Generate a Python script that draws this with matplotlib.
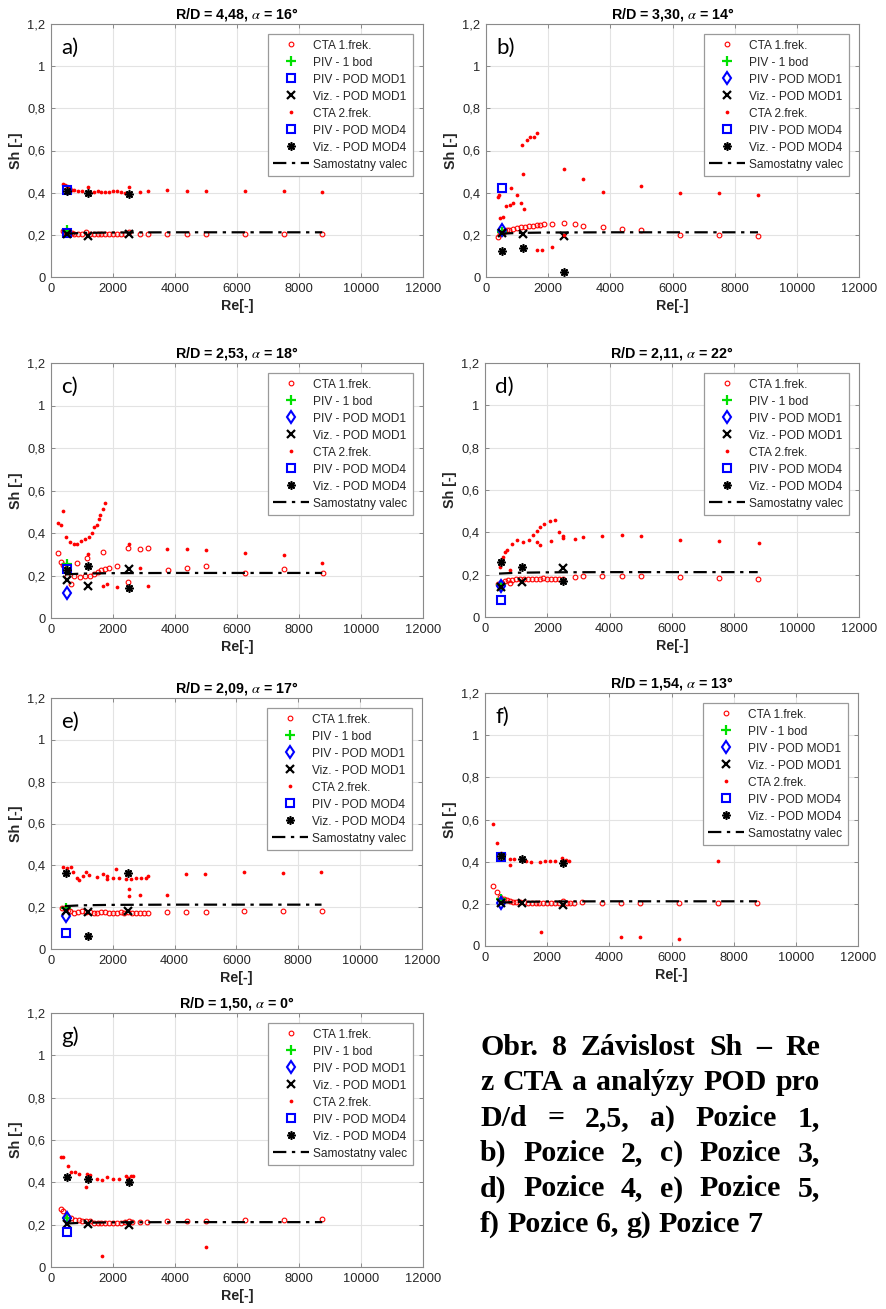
import matplotlib

matplotlib.use("Agg")
import matplotlib.pyplot as plt
from matplotlib.ticker import FuncFormatter

plt.rcParams["font.family"] = ["Liberation Sans", "DejaVu Sans"]
plt.rcParams["mathtext.fontset"] = "stix"

W, H = 886, 1309

# ---- data ------------------------------------------------------------------
POD_RE = [500, 1190, 2500]
PIV_RE = [500]
VALEC_RE = [450, 1000, 2000, 4000, 8750]
VALEC_SH = [0.205, 0.209, 0.211, 0.212, 0.212]

TITLES = ["R/D = 4,48, $\\alpha$ = 16°", "R/D = 3,30, $\\alpha$ = 14°",
          "R/D = 2,53, $\\alpha$ = 18°", "R/D = 2,11, $\\alpha$ = 22°",
          "R/D = 2,09, $\\alpha$ = 17°", "R/D = 1,54, $\\alpha$ = 13°",
          "R/D = 1,50, $\\alpha$ = 0°"]
LETTERS = ["a)", "b)", "c)", "d)", "e)", "f)", "g)"]
LABELS = ["CTA 1.frek.", "PIV - 1 bod", "PIV - POD MOD1", "Viz. - POD MOD1",
          "CTA 2.frek.", "PIV - POD MOD4", "Viz. - POD MOD4", "Samostatny valec"]

# panel a
cta1_re_a = [375, 440, 500, 560, 625, 690, 750, 875, 1000, 1125, 1250, 1375, 1500, 1625,
             1750, 1875, 2000, 2125, 2250, 2375, 2500, 2875, 3125, 3750, 4375, 5000, 6250,
             7500, 8750]
cta1_sh_a = [0.218, 0.215, 0.212, 0.21, 0.208, 0.207, 0.206, 0.205, 0.205, 0.212, 0.204,
             0.204, 0.203, 0.203, 0.203, 0.203, 0.204, 0.203, 0.203, 0.204, 0.212, 0.204,
             0.205, 0.205, 0.205, 0.204, 0.205, 0.205, 0.205]
cta2_re_a = [375, 440, 500, 560, 625, 690, 750, 875, 1000, 1190, 1250, 1375, 1500, 1625,
             1750, 1875, 2000, 2125, 2250, 2375, 2500, 2500, 2875, 3125, 3750, 4375, 5000,
             6250, 7500, 8750]
cta2_sh_a = [0.44, 0.435, 0.43, 0.425, 0.42, 0.415, 0.412, 0.41, 0.41, 0.425, 0.405, 0.403,
             0.408, 0.405, 0.403, 0.405, 0.41, 0.41, 0.405, 0.40, 0.428, 0.40, 0.405, 0.41,
             0.412, 0.41, 0.41, 0.41, 0.408, 0.405]
pod_a = dict(piv1=[0.225], mod1=[0.207], viz1=[0.205, 0.195, 0.205], mod4=[0.415],
             viz4=[0.41, 0.40, 0.395])

# panel b
cta1_re_b = [375, 440, 500, 560, 625, 690, 750, 875, 1000, 1125, 1250, 1375, 1500, 1625,
             1750, 1875, 2125, 2500, 2875, 3125, 3750, 4375, 5000, 6250, 7500, 8750]
cta1_sh_b = [0.19, 0.205, 0.21, 0.215, 0.218, 0.222, 0.225, 0.228, 0.232, 0.236, 0.239,
             0.241, 0.243, 0.246, 0.248, 0.25, 0.253, 0.254, 0.25, 0.243, 0.236, 0.23,
             0.224, 0.20, 0.197, 0.193]
cta2_re_b = [390, 420, 460, 540, 645, 775, 805, 880, 990, 1120, 1160, 1185, 1225, 1335,
             1420, 1540, 1635, 1635, 1805, 2120, 2500, 2500, 3120, 3750, 5000, 6250, 7500,
             8750]
cta2_sh_b = [0.38, 0.39, 0.278, 0.286, 0.336, 0.34, 0.42, 0.349, 0.389, 0.352, 0.624, 0.49,
             0.322, 0.648, 0.665, 0.662, 0.681, 0.128, 0.128, 0.142, 0.51, 0.20, 0.463,
             0.404, 0.432, 0.40, 0.40, 0.39]
pod_b = dict(piv1=[0.215], mod1=[0.222], viz1=[0.21, 0.205, 0.195], mod4=[0.42],
             viz4=[0.125, 0.138, 0.025])

# panel c
cta1_re_c = [237, 312, 400, 500, 634, 742, 828, 935, 1097, 1150, 1258, 1375, 1500, 1625,
             1667, 1750, 1875, 2118, 2495, 2495, 2882, 3140, 3763, 4387, 4989, 6258, 7505,
             8763]
cta1_sh_c = [0.306, 0.264, 0.248, 0.20, 0.162, 0.196, 0.26, 0.195, 0.197, 0.284, 0.20,
             0.205, 0.215, 0.225, 0.31, 0.232, 0.235, 0.243, 0.33, 0.17, 0.323, 0.33,
             0.228, 0.236, 0.245, 0.213, 0.23, 0.212]
cta2_re_c = [237, 323, 376, 484, 613, 753, 839, 968, 1108, 1183, 1226, 1333, 1398, 1484,
             1538, 1591, 1667, 1742, 1667, 1806, 2140, 2505, 2500, 2880, 3118, 3753, 4375,
             5000, 6250, 7500, 8750]
cta2_sh_c = [0.446, 0.436, 0.503, 0.383, 0.356, 0.348, 0.348, 0.364, 0.371, 0.30, 0.383,
             0.399, 0.43, 0.437, 0.464, 0.485, 0.511, 0.54, 0.152, 0.16, 0.145, 0.347, 0.14,
             0.235, 0.152, 0.325, 0.325, 0.32, 0.305, 0.298, 0.26]
pod_c = dict(piv1=[0.255], mod1=[0.12], viz1=[0.18, 0.15, 0.23], mod4=[0.23],
             viz4=[0.225, 0.245, 0.14])

# panel d
cta1_re_d = [430, 484, 560, 645, 731, 810, 880, 1000, 1125, 1250, 1375, 1500, 1625, 1750,
             1875, 2000, 2125, 2250, 2375, 2500, 2882, 3140, 3763, 4387, 5000, 6250, 7500,
             8750]
cta1_sh_d = [0.157, 0.15, 0.16, 0.169, 0.174, 0.16, 0.177, 0.178, 0.178, 0.18, 0.18, 0.18,
             0.181, 0.181, 0.182, 0.18, 0.18, 0.18, 0.181, 0.18, 0.19, 0.192, 0.192, 0.193,
             0.192, 0.189, 0.186, 0.18]
cta2_re_d = [484, 538, 591, 645, 720, 806, 860, 1032, 1161, 1204, 1409, 1538, 1667, 1667,
             1774, 1774, 1882, 2086, 2129, 2237, 2366, 2505, 2505, 2882, 3140, 3763, 4399,
             5011, 6255, 7521, 8777]
cta2_sh_d = [0.237, 0.263, 0.283, 0.307, 0.318, 0.221, 0.346, 0.362, 0.237, 0.354, 0.362,
             0.388, 0.406, 0.354, 0.425, 0.342, 0.44, 0.452, 0.359, 0.46, 0.40, 0.382, 0.373,
             0.37, 0.378, 0.385, 0.386, 0.381, 0.362, 0.357, 0.35]
pod_d = dict(piv1=[0.15], mod1=[0.145], viz1=[0.14, 0.165, 0.23], mod4=[0.08],
             viz4=[0.26, 0.235, 0.17])

# panel e
cta1_re_e = [344, 440, 500, 560, 625, 750, 875, 1000, 1125, 1250, 1375, 1500, 1625, 1750,
             1875, 2000, 2125, 2250, 2375, 2500, 2625, 2750, 2875, 3000, 3125, 3750, 4375,
             5000, 6250, 7500, 8750]
cta1_sh_e = [0.198, 0.195, 0.19, 0.185, 0.18, 0.17, 0.178, 0.18, 0.178, 0.176, 0.172, 0.174,
             0.175, 0.178, 0.174, 0.172, 0.17, 0.175, 0.172, 0.178, 0.174, 0.172, 0.17,
             0.172, 0.172, 0.176, 0.178, 0.178, 0.18, 0.182, 0.183]
cta2_re_e = [398, 505, 634, 699, 828, 914, 1043, 1129, 1237, 1473, 1667, 1796, 1817, 2011,
             2118, 2204, 2419, 2602, 2763, 2925, 3086, 3140, 2516, 2516, 2892, 3753, 4376,
             4989, 6237, 7495, 8731]
cta2_sh_e = [0.394, 0.386, 0.394, 0.37, 0.339, 0.331, 0.35, 0.37, 0.355, 0.343, 0.358,
             0.351, 0.334, 0.339, 0.383, 0.339, 0.334, 0.334, 0.339, 0.339, 0.339, 0.347,
             0.286, 0.251, 0.259, 0.259, 0.358, 0.359, 0.366, 0.362, 0.367]
pod_e = dict(piv1=[0.195], mod1=[0.16], viz1=[0.18, 0.175, 0.18], mod4=[0.075],
             viz4=[0.365, 0.06, 0.365])

# panel f
cta1_re_f = [268, 375, 482, 611, 700, 800, 900, 1000, 1125, 1250, 1375, 1500, 1625, 1750,
             1875, 2000, 2125, 2250, 2375, 2500, 2625, 2750, 2875, 3125, 3750, 4375, 5000,
             6250, 7500, 8750]
cta1_sh_f = [0.285, 0.255, 0.234, 0.222, 0.218, 0.213, 0.21, 0.21, 0.208, 0.207, 0.205,
             0.205, 0.205, 0.205, 0.205, 0.206, 0.205, 0.205, 0.206, 0.212, 0.206, 0.206,
             0.205, 0.21, 0.205, 0.205, 0.205, 0.205, 0.205, 0.205]
cta2_re_f = [268, 375, 504, 622, 804, 804, 932, 1179, 1318, 1468, 1768, 1929, 2090, 2251,
             2465, 2519, 2605, 2712, 7492, 1790, 4373, 4984, 6238]
cta2_sh_f = [0.579, 0.49, 0.44, 0.437, 0.411, 0.384, 0.411, 0.413, 0.405, 0.399, 0.399,
             0.405, 0.402, 0.402, 0.416, 0.405, 0.408, 0.405, 0.403, 0.068, 0.041, 0.041,
             0.035]
pod_f = dict(piv1=[0.225], mod1=[0.205], viz1=[0.205, 0.205, 0.195], mod4=[0.42],
             viz4=[0.425, 0.415, 0.395])

# panel g
cta1_re_g = [323, 398, 505, 645, 774, 900, 1000, 1125, 1250, 1375, 1500, 1625, 1750, 1875,
             2000, 2125, 2250, 2375, 2500, 2625, 2870, 3086, 3753, 4387, 4989, 6258, 7505,
             8742]
cta1_sh_g = [0.276, 0.265, 0.242, 0.232, 0.224, 0.22, 0.218, 0.216, 0.215, 0.21, 0.21,
             0.208, 0.208, 0.207, 0.208, 0.21, 0.21, 0.212, 0.215, 0.212, 0.213, 0.213,
             0.218, 0.218, 0.218, 0.224, 0.224, 0.229]
cta2_re_g = [323, 398, 538, 645, 774, 914, 1129, 1172, 1258, 1473, 1634, 1817, 2011, 2204,
             2419, 2495, 2570, 2656, 1656, 4989]
cta2_sh_g = [0.521, 0.521, 0.479, 0.45, 0.447, 0.439, 0.376, 0.438, 0.434, 0.414, 0.412,
             0.427, 0.415, 0.417, 0.428, 0.422, 0.43, 0.428, 0.052, 0.095]
pod_g = dict(piv1=[0.23], mod1=[0.23], viz1=[0.205, 0.205, 0.20], mod4=[0.165],
             viz4=[0.425, 0.415, 0.40])

# axes boxes in pixels: left, top, right, bottom
BOXES = [(51, 24, 423, 277), (486, 24, 859, 277),
         (51, 363, 423, 618), (485, 363, 859, 617),
         (51, 698, 422, 949), (485, 693, 858, 946),
         (51, 1013, 423, 1267)]

CAPTION = [["Obr.", "8", "Závislost", "Sh", "–", "Re"],
           ["z", "CTA", "a", "analýzy", "POD", "pro"],
           ["D/d", "=", "2,5,", "a)", "Pozice", "1,"],
           ["b)", "Pozice", "2,", "c)", "Pozice", "3,"],
           ["d)", "Pozice", "4,", "e)", "Pozice", "5,"],
           ["f)", "Pozice", "6,", "g)", "Pozice", "7"]]

INK = "#262626"


def comma(v, pos):
    return f"{v:g}".replace(".", ",")


def panel(ax, i, c1r, c1s, c2r, c2s, pod, mod1_marker="d"):
    ax.plot(c1r, c1s, "o", ls="none", mfc="none", mec="red", ms=3.4, mew=0.8)
    ax.plot(PIV_RE, pod["piv1"], "+", ls="none", color="#00e000", ms=6.5, mew=1.6)
    ax.plot(PIV_RE, pod["mod1"], mod1_marker, ls="none", mfc="none", mec="blue",
            ms=6.5 if mod1_marker == "d" else 5.2, mew=1.5)
    ax.plot(POD_RE, pod["viz1"], "x", ls="none", color="black", ms=5.5, mew=1.6)
    ax.plot(c2r, c2s, "o", ls="none", color="red", mec="none", ms=2.7)
    ax.plot(PIV_RE, pod["mod4"], "s", ls="none", mfc="none", mec="blue", ms=5.2, mew=1.5)
    ax.plot(POD_RE, pod["viz4"], marker=(8, 2, 0), ls="none", color="black", ms=6, mew=1.2)
    ax.plot(VALEC_RE, VALEC_SH, color="black", lw=1.6, dashes=(6, 2.5, 1.5, 2.5))

    ax.set_xlim(0, 12000)
    ax.set_ylim(0, 1.2)
    ax.set_xticks(range(0, 12001, 2000))
    ax.set_yticks([0, 0.2, 0.4, 0.6, 0.8, 1.0, 1.2])
    ax.xaxis.set_major_formatter(FuncFormatter(comma))
    ax.yaxis.set_major_formatter(FuncFormatter(comma))
    ax.tick_params(direction="in", length=3, width=0.6, colors="#7a7a7a",
                   labelcolor=INK, labelsize=9.3, top=True, right=True, pad=4)
    for s in ax.spines.values():
        s.set_color("#8a8a8a")
        s.set_linewidth(0.8)
    ax.grid(True, color="#e3e3e3", lw=0.8)
    ax.set_axisbelow(True)

    ax.set_title(TITLES[i], fontsize=10.3, fontweight="bold", color="black", pad=4)
    ax.set_xlabel("Re[-]", fontsize=10.3, fontweight="bold", color=INK, labelpad=3)
    ax.set_ylabel("Sh [-]", fontsize=10.3, fontweight="bold", color=INK, labelpad=3)
    ax.text(0.027, 0.905, LETTERS[i], transform=ax.transAxes, fontsize=16,
            family="Lato", ha="left", va="center", color="black")

    leg = ax.legend(LABELS, loc="upper right", fontsize=8.6, fancybox=False,
                    edgecolor="#9a9a9a", framealpha=1, numpoints=1, handlelength=3,
                    handletextpad=0.35, labelspacing=0.42, borderaxespad=0.85,
                    borderpad=0.45)
    leg.get_frame().set_linewidth(0.9)
    for t in leg.get_texts():
        t.set_color(INK)


fig = plt.figure(figsize=(W / 100, H / 100), dpi=100)

datasets = [
    (cta1_re_a, cta1_sh_a, cta2_re_a, cta2_sh_a, pod_a, "s"),
    (cta1_re_b, cta1_sh_b, cta2_re_b, cta2_sh_b, pod_b, "d"),
    (cta1_re_c, cta1_sh_c, cta2_re_c, cta2_sh_c, pod_c, "d"),
    (cta1_re_d, cta1_sh_d, cta2_re_d, cta2_sh_d, pod_d, "d"),
    (cta1_re_e, cta1_sh_e, cta2_re_e, cta2_sh_e, pod_e, "d"),
    (cta1_re_f, cta1_sh_f, cta2_re_f, cta2_sh_f, pod_f, "d"),
    (cta1_re_g, cta1_sh_g, cta2_re_g, cta2_sh_g, pod_g, "d"),
]
for i, (box, ds) in enumerate(zip(BOXES, datasets)):
    l, t, r, b = box
    ax = fig.add_axes([l / W, 1 - b / H, (r - l) / W, (b - t) / H])
    panel(ax, i, *ds[:5], mod1_marker=ds[5])

# ---- caption, justified block ------------------------------------------------
CAP_X0, CAP_X1 = 480, 820
CAP_Y0, CAP_DY = 1055, 35.3
cap_fs = 21.5
renderer = fig.canvas.get_renderer()
rows = []
for k, words in enumerate(CAPTION):
    y = 1 - (CAP_Y0 + k * CAP_DY) / H
    ts = [fig.text(0, y, w, fontsize=cap_fs, fontweight="bold",
                   family=["Liberation Serif", "DejaVu Serif"], va="baseline",
                   ha="left", color="black") for w in words]
    rows.append(ts)
space = fig.text(0, 0, "a a", fontsize=cap_fs, fontweight="bold",
                 family="Liberation Serif")
space_aa = fig.text(0, 0, "aa", fontsize=cap_fs, fontweight="bold",
                    family="Liberation Serif")
sp_w = (space.get_window_extent(renderer).width
        - space_aa.get_window_extent(renderer).width)
space.remove()
space_aa.remove()
for k, ts in enumerate(rows):
    widths = [t.get_window_extent(renderer).width for t in ts]
    if k == len(rows) - 1:
        gap = sp_w
    else:
        gap = (CAP_X1 - CAP_X0 - sum(widths)) / (len(ts) - 1)
    x = CAP_X0
    for t, w in zip(ts, widths):
        t.set_x(x / W)
        x += w + gap

fig.savefig("out.png", dpi=100)
